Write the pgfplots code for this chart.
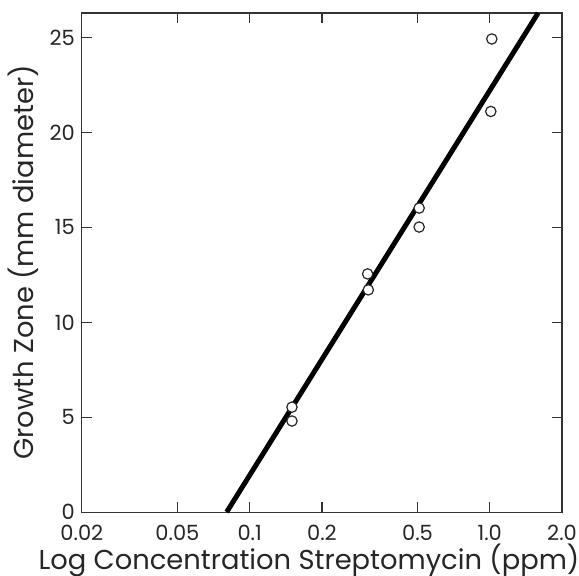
\documentclass[border=0pt]{standalone}
\usepackage{pgfplots}
\pgfplotsset{compat=1.18}
\usepackage{fontspec}
\setmainfont{Poppins}
\begin{document}
\begin{tikzpicture}
\begin{axis}[
  scale only axis, width=240.5pt, height=250pt,
  xmode=log, xmin=0.02, xmax=2.0, ymin=0, ymax=26.3,
  xtick={0.02,0.05,0.1,0.2,0.5,1,2},
  xticklabels={0.02,0.05,0.1,0.2,0.5,1.0,2.0},
  minor xtick={},
  ytick={0,5,10,15,20,25},
  tick align=inside, major tick length=5pt,
  tick style={black!80, line width=0.6pt},
  axis line style={black!80, line width=0.6pt},
  /pgf/number format/assume math mode=true,
  tick label style={font=\fontsize{10.5}{12}\selectfont, black!85},
  xticklabel style={yshift=-3pt},
  xlabel={Log Concentration Streptomycin (ppm)},
  ylabel={Growth Zone (mm diameter)},
  label style={font=\fontsize{13.7}{15}\selectfont, black!85},
  xlabel style={at={(axis description cs:0.473,-0.114)}, anchor=base},
  ylabel style={at={(axis description cs:-0.1,0.5)}, anchor=base},
  clip=false,
]
\addplot[black, line width=2.5pt] coordinates {(0.0802,0) (1.59,26.3)};
\addplot[only marks, mark=*, mark size=2.6pt,
  mark options={fill=white, draw=black!85, line width=0.6pt}] coordinates {
  (0.150,5.53) (0.150,4.80)
  (0.310,12.55) (0.312,11.71)
  (0.508,16.02) (0.508,15.02)
  (1.02,24.93) (1.01,21.11)
};
\coordinate (sw) at (rel axis cs:0,0);
\coordinate (ne) at (rel axis cs:1,1);
\end{axis}
\pgfresetboundingbox
\path ([shift={(-41pt,-32pt)}]sw) rectangle ([shift={(8.5pt,6.5pt)}]ne);
\end{tikzpicture}
\end{document}
